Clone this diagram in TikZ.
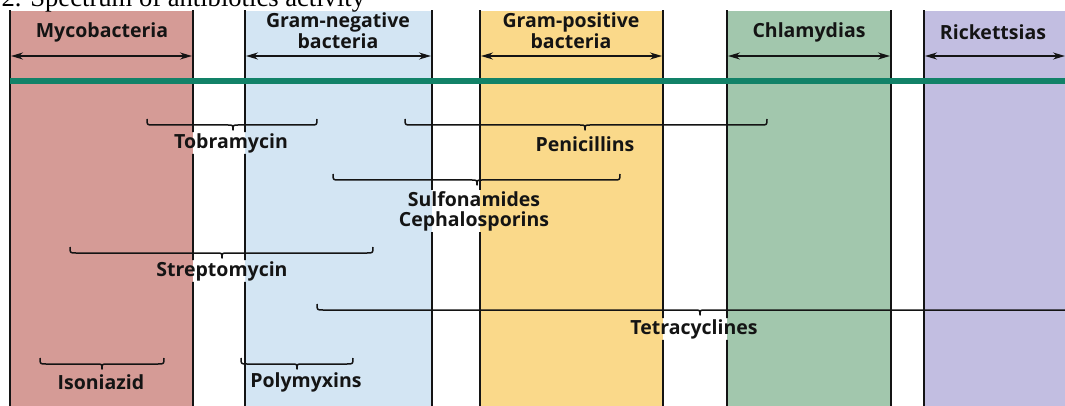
\documentclass[tikz,border=0pt]{standalone}
\usepackage{fontspec}
\setmainfont{Liberation Serif}
\newfontfamily\labfont{Open Sans}
\usetikzlibrary{arrows.meta}
\definecolor{mycoC}{RGB}{213,155,150}
\definecolor{gnegC}{RGB}{211,229,243}
\definecolor{gposC}{RGB}{250,217,138}
\definecolor{chlaC}{RGB}{162,199,173}
\definecolor{rickC}{RGB}{194,190,225}
\definecolor{barC}{RGB}{18,130,104}
\definecolor{inkC}{RGB}{20,20,20}
\tikzset{
  colline/.style={line width=1.8pt, draw=inkC},
  hdr/.style={font=\labfont\bfseries\fontsize{19.5}{17.5}\selectfont, align=center, inner sep=1pt, text=inkC},
  drug/.style={font=\labfont\bfseries\fontsize{19.5}{20}\selectfont, align=center, inner sep=1pt, text=inkC},
  span/.style={line width=1.6pt, draw=inkC, {Stealth[length=12pt,width=7pt]}-{Stealth[length=12pt,width=7pt]}},
  bracket/.style={line width=1.5pt, draw=inkC, line join=round},
}
\newcommand\spanbrace[4]{%
  \draw[bracket] (#2,-#1+6) .. controls (#2,-#1) .. (#2+6,-#1) -- (#4-5,-#1)
    .. controls (#4,-#1) .. (#4,-#1-5) .. controls (#4,-#1) .. (#4+5,-#1)
    -- (#3-6,-#1) .. controls (#3,-#1) .. (#3,-#1+6);}
\begin{document}
\begin{tikzpicture}[x=1pt,y=1pt]
\useasboundingbox (0,0) rectangle (1065,-406);
% column fills
\fill[mycoC] (10,-11) rectangle (193,-410);
\fill[gnegC] (245,-11) rectangle (432,-410);
\fill[gposC] (480,-11) rectangle (663,-410);
\fill[chlaC] (727,-11) rectangle (891,-410);
\fill[rickC] (924,-11) rectangle (1070,-410);
% caption (cut at the top)
\node[anchor=base west, font=\fontsize{26.6}{30}\selectfont, inner sep=0pt] (cap) at (1.4,-7) {2. Spectrum of antibiotics activity};
% headers
\node[hdr] (hmyco) at (102,-32) {Mycobacteria};
\node[hdr] (hgneg) at (338,-30.5) {Gram-negative\\bacteria};
\node[hdr] (hgpos) at (571,-30.5) {Gram-positive\\bacteria};
\node[hdr] (hchla) at (809,-32) {Chlamydias};
\node[hdr] (hrick) at (993,-32) {Rickettsias};
% drug labels
\node[drug] (tob) at (231,-143) {Tobramycin};
\node[drug] (pen) at (585,-144) {Penicillins};
\node[drug] (sulf) at (474,-211) {Sulfonamides\\Cephalosporins};
\node[drug] (strep) at (222,-271) {Streptomycin};
\node[drug] (tet) at (694,-329) {Tetracyclines};
\node[drug] (iso) at (101,-382) {Isoniazid};
\node[drug] (poly) at (306,-382) {Polymyxins};
% column border lines, hidden behind the labels
\begin{scope}[even odd rule]
\clip (-5,5) rectangle (1075,-415)
  (tob.south west) rectangle (tob.north east)
  (strep.south west) rectangle (strep.north east)
  (sulf.south west) rectangle (sulf.north east)
  (tet.south west) rectangle (tet.north east);
\foreach \x in {10,193,245,432,480,663,727,891,924}
  \draw[colline] (\x,-10.5) -- (\x,-410);
\end{scope}
% spans
\coordinate (mycoL) at (11,-56); \coordinate (mycoR) at (192,-56);
\coordinate (gnegL) at (246,-56); \coordinate (gnegR) at (431,-56);
\coordinate (gposL) at (481,-56); \coordinate (gposR) at (662,-56);
\coordinate (chlaL) at (728,-56); \coordinate (chlaR) at (890,-56);
\coordinate (rickL) at (925,-56); \coordinate (rickR) at (1065,-56);
\draw[span] (mycoL) -- (mycoR);
\draw[span] (gnegL) -- (gnegR);
\draw[span] (gposL) -- (gposR);
\draw[span] (chlaL) -- (chlaR);
\draw[span] (rickL) -- (rickR);
% green bar
\coordinate (barL) at (10,-81); \coordinate (barR) at (1066,-81);
\draw[barC, line width=5.5pt] (barL) -- (barR);
% brackets
\spanbrace{125}{147}{317}{233}
\spanbrace{125}{405}{767}{585}
\spanbrace{180}{333}{620}{477}
\spanbrace{253}{70}{373}{222}
\spanbrace{364}{40}{164}{102}
\spanbrace{364}{241}{353}{297}
\draw[bracket] (317,-304) .. controls (317,-310) .. (323,-310) -- (695,-310)
  .. controls (700,-310) .. (700,-315) .. controls (700,-310) .. (705,-310) -- (1070,-310);
\end{tikzpicture}
\end{document}
